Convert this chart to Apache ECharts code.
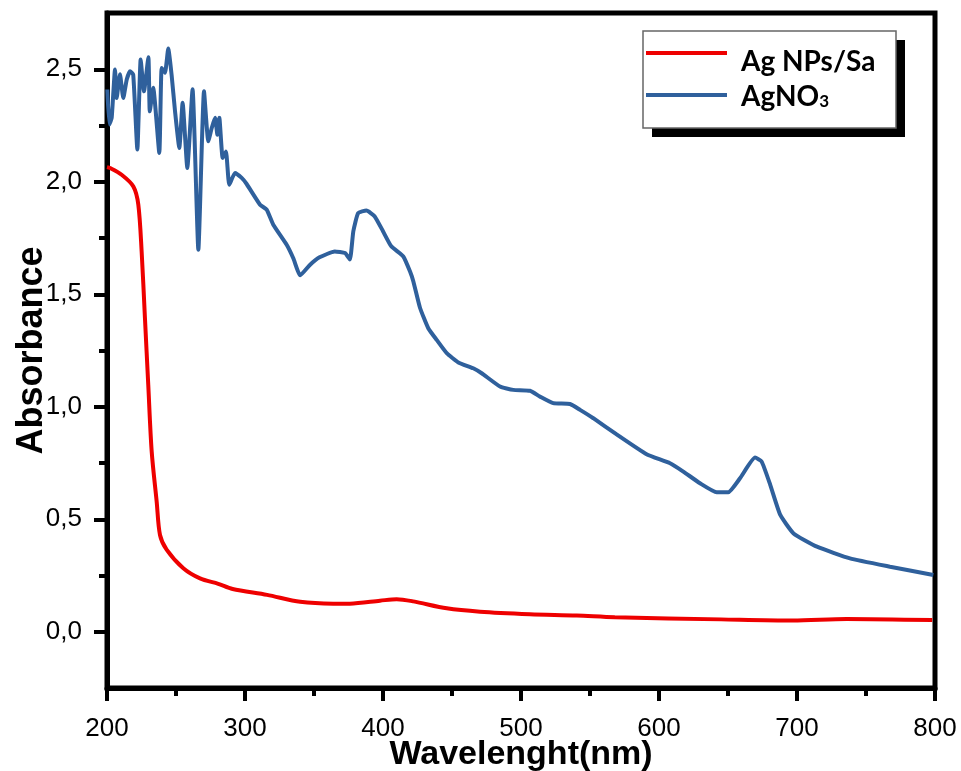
<!DOCTYPE html>
<html>
<head>
<meta charset="utf-8">
<script src="https://cdn.jsdelivr.net/npm/echarts@6/dist/echarts.min.js"></script>
<style>html,body{margin:0;padding:0;background:#fff;}#c{width:961px;height:771px;}</style>
</head>
<body>
<div id="c"></div>
<script>
// Ag NPs/Sa (red)
const redX = [200, 202.2, 210.6, 219.1, 222.7, 225.1, 227.5, 229.9, 232.4, 236, 238.4, 243.2, 255.3, 267.4, 280.6, 291, 316, 340, 364, 376, 397.8, 409.9, 422, 446.2, 470.3, 506.5, 540.4, 568, 645, 697, 736, 798];
const redY = [2.065, 2.061, 2.031, 1.979, 1.898, 1.69, 1.394, 1.097, 0.8, 0.578, 0.43, 0.365, 0.282, 0.237, 0.213, 0.19, 0.164, 0.133, 0.125, 0.125, 0.138, 0.145, 0.135, 0.104, 0.089, 0.078, 0.072, 0.064, 0.055, 0.05, 0.057, 0.052];
// AgNO3 (blue)
const blueX = [200.2, 201.7, 203.4, 205.8, 207, 209.4, 211.8, 214.3, 216.7, 219, 222, 224.4, 226.8, 230, 231, 233.5, 237.9, 239.6, 242, 244.4, 246.8, 249.3, 252.4, 254.8, 258.2, 262, 266.2, 270.3, 273.4, 275.9, 278.3, 280, 281.4, 283.8, 286.2, 288.6, 292.8, 297.6, 301.2, 310.9, 315.7, 320.5, 330.2, 335, 340, 347, 354, 365, 372.5, 376, 378.5, 382, 388, 394, 400, 406, 414.7, 419.6, 422, 426.8, 432.8, 438.9, 446.2, 454.6, 465.4, 471.5, 484.8, 494.4, 506.5, 513.8, 523.4, 535.5, 542.8, 552.4, 569.3, 591, 608, 617.6, 629.7, 641.8, 650.2, 658.7, 669.6, 674.4, 680.6, 687.9, 697.5, 714.5, 738.4, 767.4, 798.8];
const blueY = [2.41, 2.255, 2.284, 2.499, 2.372, 2.478, 2.372, 2.454, 2.491, 2.476, 2.143, 2.543, 2.402, 2.553, 2.313, 2.418, 2.128, 2.506, 2.484, 2.592, 2.476, 2.313, 2.15, 2.351, 2.061, 2.411, 1.698, 2.402, 2.18, 2.239, 2.284, 2.209, 2.284, 2.106, 2.135, 1.987, 2.039, 2.017, 1.99, 1.898, 1.876, 1.809, 1.72, 1.66, 1.584, 1.63, 1.664, 1.69, 1.683, 1.654, 1.78, 1.861, 1.872, 1.846, 1.78, 1.713, 1.668, 1.601, 1.557, 1.44, 1.349, 1.297, 1.238, 1.197, 1.171, 1.149, 1.09, 1.075, 1.071, 1.045, 1.016, 1.012, 0.986, 0.949, 0.877, 0.789, 0.749, 0.712, 0.66, 0.62, 0.62, 0.682, 0.774, 0.756, 0.653, 0.519, 0.437, 0.378, 0.326, 0.289, 0.252];
const yMajorTicks = [0, 0.5, 1.0, 1.5, 2.0, 2.5];
const yMinorTicks = [0.25, 0.75, 1.25, 1.75, 2.25];
const seriesNames = ['Ag NPs/Sa', 'AgNO3'];

const pairs = (xs, ys) => xs.map((x, i) => [x, ys[i]]);

const chart = echarts.init(document.getElementById('c'));
chart.setOption({
  animation: false,
  backgroundColor: '#fff',
  grid: { left: 107, right: 26, top: 13, bottom: 83, outerBoundsMode: 'none', containLabel: false,
    show: true, borderColor: '#000', borderWidth: 5, backgroundColor: 'transparent' },
  xAxis: {
    type: 'value', min: 200, max: 800, interval: 100,
    name: 'Wavelenght(nm)', nameLocation: 'middle', nameGap: 50, nameMoveOverlap: false,
    nameTextStyle: { fontFamily: 'Liberation Sans', fontWeight: 'bold', fontSize: 34, color: '#000' },
    axisLine: { show: true, onZero: false, lineStyle: { color: '#000', width: 5 } },
    axisTick: { show: true, inside: false, length: 13, lineStyle: { color: '#000', width: 4 } },
    minorTick: { show: true, splitNumber: 2, length: 8, lineStyle: { color: '#000', width: 4 } },
    axisLabel: { fontFamily: 'Liberation Sans', fontSize: 26, color: '#000', margin: 28 },
    splitLine: { show: false }
  },
  yAxis: [
    {
      type: 'value', min: -0.25, max: 2.75, interval: 0.25,
      name: 'Absorbance', nameLocation: 'middle', nameGap: 57, nameMoveOverlap: false,
      nameTextStyle: { fontFamily: 'Liberation Sans', fontWeight: 'bold', fontSize: 36, color: '#000' },
      axisLine: { show: true, onZero: false, lineStyle: { color: '#000', width: 5 } },
      axisTick: { show: true, inside: false, length: 13, customValues: yMajorTicks, lineStyle: { color: '#000', width: 4 } },
      axisLabel: { customValues: yMajorTicks, fontFamily: 'Liberation Sans', fontSize: 26, color: '#000', margin: 25,
        formatter: v => v.toFixed(1).replace('.', ',') },
      splitLine: { show: false }
    },
    {
      type: 'value', min: -0.25, max: 2.75, interval: 0.25, position: 'left',
      axisLine: { show: false, onZero: false },
      axisTick: { show: true, inside: false, length: 8, customValues: yMinorTicks, lineStyle: { color: '#000', width: 4 } },
      axisLabel: { show: false },
      splitLine: { show: false }
    }
  ],
  legend: {
    orient: 'vertical', left: 646, top: 30, padding: 0, itemGap: 3, z: 10,
    icon: 'rect', itemWidth: 81, itemHeight: 4,
    data: seriesNames,
    formatter: n => n === 'AgNO3' ? '{b|AgNO}{s|3}' : '{a|' + n + '}',
    textStyle: {
      padding: [0, 0, 0, 9],
      rich: {
        a: { fontFamily: 'Lato', fontWeight: 'bold', fontSize: 28, color: '#000', lineHeight: 30, padding: [18, 0, 0, 0] },
        b: { fontFamily: 'Lato', fontWeight: 'bold', fontSize: 28, color: '#000', lineHeight: 30, padding: [4, 0, 0, 0] },
        s: { fontFamily: 'Lato', fontWeight: 'bold', fontSize: 17, color: '#000', lineHeight: 30, verticalAlign: 'bottom', padding: [10, 0, 0, 0] }
      }
    }
  },
  graphic: [
    { type: 'rect', z: 3, shape: { x: 652, y: 40, width: 253, height: 97 }, style: { fill: '#000' } },
    { type: 'rect', z: 4, shape: { x: 643, y: 31, width: 253, height: 97 }, style: { fill: '#fff', stroke: '#666', lineWidth: 1.5 } }
  ],
  series: [
    { name: seriesNames[0], type: 'line', data: pairs(redX, redY), showSymbol: false, smooth: 0.3,
      lineStyle: { color: '#ee0000', width: 4 }, itemStyle: { color: '#ee0000' } },
    { name: seriesNames[1], type: 'line', data: pairs(blueX, blueY), showSymbol: false, smooth: 0.15,
      lineStyle: { color: '#2f609c', width: 4 }, itemStyle: { color: '#2f609c' } }
  ]
});
</script>
</body>
</html>
